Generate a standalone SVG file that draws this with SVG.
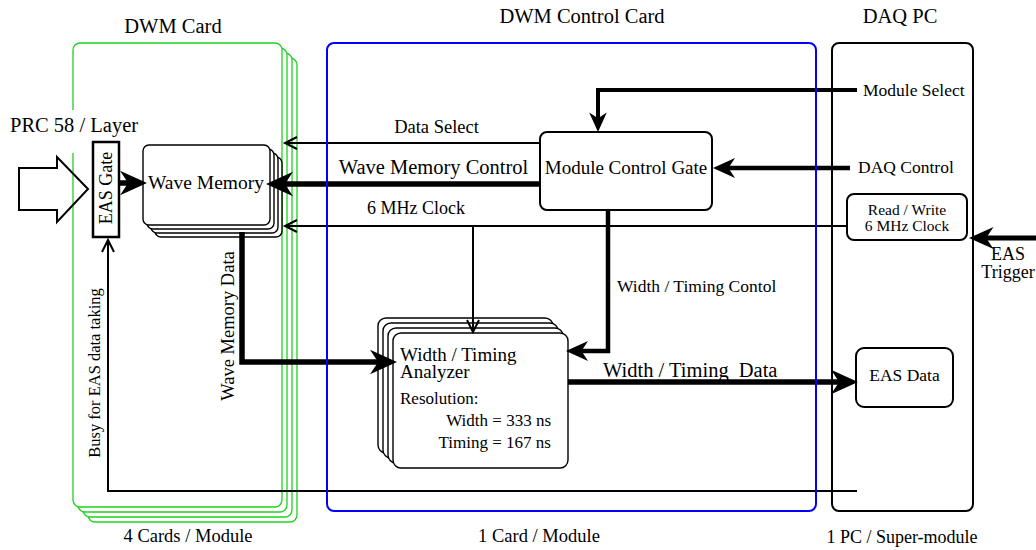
<svg xmlns="http://www.w3.org/2000/svg" width="1036" height="550" viewBox="0 0 1036 550">
  <style>
    .t { font-family: "Liberation Serif", "Times New Roman", serif; fill: #000; }
    .box { fill: #fff; stroke: #000; stroke-width: 2; }
    .stack { fill: #fff; stroke: #000; stroke-width: 1.4; }
    .card { fill: #fff; stroke: #1fd21f; stroke-width: 1.3; }
    .thin { fill: none; stroke: #000; stroke-width: 2; marker-end: url(#open); }
    .thick { fill: none; stroke: #000; stroke-linejoin: miter; marker-end: url(#solid); }
  </style>
  <defs>
    <!-- filled, notched head for the wide data/control buses (scales with stroke) -->
    <marker id="solid" viewBox="0 0 10 9" refX="6" refY="4.5" markerWidth="4.9" markerHeight="4.41" orient="auto" markerUnits="strokeWidth" overflow="visible">
      <path d="M0,0 L10,4.5 L0,9 L3,4.5 Z" fill="#000"/>
    </marker>
    <!-- open chevron head for thin signal lines -->
    <marker id="open" viewBox="0 0 14 14" refX="13" refY="7" markerWidth="14" markerHeight="14" orient="auto" markerUnits="userSpaceOnUse" overflow="visible">
      <path d="M1,1 L13,7 L1,13" fill="none" stroke="#000" stroke-width="2"/>
    </marker>
  </defs>

  <rect width="1036" height="550" fill="#fff"/>

  <!-- titles -->
  <text class="t" x="173" y="33" font-size="20.5" text-anchor="middle">DWM Card</text>
  <text class="t" x="582" y="23" font-size="20.5" text-anchor="middle">DWM Control Card</text>
  <text class="t" x="900" y="23" font-size="20.5" text-anchor="middle">DAQ PC</text>

  <!-- DWM cards: four stacked boards -->
  <g id="dwm-cards">
    <rect class="card" x="88" y="58" width="209" height="464" rx="7"/>
    <rect class="card" x="83" y="53" width="209" height="464" rx="7"/>
    <rect class="card" x="78" y="48" width="209" height="464" rx="7"/>
    <rect class="card" x="73" y="43" width="209" height="464" rx="7"/>
    <text class="t" x="188" y="541.5" font-size="18.5" text-anchor="middle">4 Cards / Module</text>
  </g>

  <!-- input from the PRC -->
  <g id="prc-input">
    <rect x="8" y="110" width="132" height="43" fill="#fff"/>
    <text class="t" x="10" y="132" font-size="20.5">PRC 58 / Layer</text>
    <polygon points="19,168 57,168 57,157 88,189 57,222 57,210 19,210" fill="none" stroke="#000" stroke-width="2" stroke-linejoin="miter"/>
  </g>

  <!-- DAQ PC -->
  <g id="daq-pc">
    <rect x="832" y="43" width="141" height="468" rx="7" fill="none" stroke="#000" stroke-width="2"/>
    <text class="t" x="902" y="543" font-size="18" text-anchor="middle">1 PC / Super-module</text>
  </g>

  <g id="eas-gate">
    <rect x="93" y="142" width="26" height="95" fill="#fff" stroke="#000" stroke-width="2.5"/>
    <text class="t" transform="translate(112,188) rotate(-90)" font-size="18" text-anchor="middle">EAS Gate</text>
  </g>

  <g id="wave-memory">
    <rect class="stack" x="155" y="157" width="127" height="80" rx="6"/>
    <rect class="stack" x="151" y="153" width="127" height="80" rx="6"/>
    <rect class="stack" x="147" y="149" width="127" height="80" rx="6"/>
    <rect class="stack" x="143" y="145" width="127" height="80" rx="6"/>
    <text class="t" x="206" y="189" font-size="19.5" text-anchor="middle">Wave Memory</text>
  </g>

  <g id="module-control-gate">
    <rect class="box" x="540" y="132" width="172" height="78" rx="7"/>
    <text class="t" x="626" y="174" font-size="19" text-anchor="middle">Module Control Gate</text>
  </g>

  <g id="width-timing-analyzer">
    <rect class="stack" x="378" y="318" width="175" height="135" rx="8"/>
    <rect class="stack" x="383" y="323" width="175" height="135" rx="8"/>
    <rect class="stack" x="388" y="328" width="175" height="135" rx="8"/>
    <rect class="stack" x="393" y="333" width="175" height="135" rx="8"/>
    <text class="t" x="400" y="361" font-size="19">Width / Timing</text>
    <text class="t" x="400" y="378" font-size="19">Analyzer</text>
    <text class="t" x="400" y="404" font-size="17">Resolution:</text>
    <text class="t" x="551" y="426" font-size="17" text-anchor="end">Width = 333 ns</text>
    <text class="t" x="551" y="448" font-size="17" text-anchor="end">Timing = 167 ns</text>
  </g>

  <g id="read-write">
    <rect class="box" x="847" y="194" width="120" height="46" rx="7"/>
    <text class="t" x="907" y="215" font-size="15.5" text-anchor="middle">Read / Write</text>
    <text class="t" x="907" y="231" font-size="15.5" text-anchor="middle">6 MHz Clock</text>
  </g>

  <g id="eas-data">
    <rect class="box" x="856" y="348" width="97" height="59" rx="8"/>
    <text class="t" x="904.5" y="381" font-size="17.5" text-anchor="middle">EAS Data</text>
  </g>

  <!-- connectors -->
  <g id="connectors">
    <path class="thick" stroke-width="5.5" d="M119,183 H136.2"/>
    <path class="thick" stroke-width="5.5" d="M540,184 H276.8"/>
    <path class="thick" stroke-width="4" d="M857,90 H598 V124.2"/>
    <path class="thick" stroke-width="4.5" d="M850,168 H721.8"/>
    <path class="thick" stroke-width="4.5" d="M608,210 V351 H574.8"/>
    <path class="thick" stroke-width="5.5" d="M242,232 V362 H386.2"/>
    <path class="thick" stroke-width="5.5" d="M568,382 H847.2"/>
    <path class="thick" stroke-width="5" d="M1036,238 H978.8"/>
    <path class="thin" d="M540,143 H285"/>
    <path class="thin" d="M847,226 H285"/>
    <path class="thin" d="M473,226 V332"/>
    <path class="thin" d="M857,491 H108 V240"/>

    <text class="t" x="436.5" y="133" font-size="18.5" text-anchor="middle">Data Select</text>
    <text class="t" x="433.5" y="173.5" font-size="20.5" text-anchor="middle">Wave Memory Control</text>
    <text class="t" x="416" y="214" font-size="18" text-anchor="middle">6 MHz Clock</text>
    <text class="t" x="863" y="96" font-size="17.5">Module Select</text>
    <text class="t" x="858" y="173" font-size="17.5">DAQ Control</text>
    <text class="t" x="617" y="292" font-size="17.5">Width / Timing Contol</text>
    <text class="t" x="603" y="377" font-size="20.5">Width / Timing <tspan dx="5">Data</tspan></text>
    <text class="t" x="1008" y="260" font-size="18" text-anchor="middle">EAS</text>
    <text class="t" x="1008" y="278" font-size="18" text-anchor="middle">Trigger</text>
    <text class="t" transform="translate(234,326) rotate(-90)" font-size="18.5" text-anchor="middle">Wave Memory Data</text>
    <text class="t" transform="translate(100,373) rotate(-90)" font-size="16.5" text-anchor="middle">Busy for EAS data taking</text>
  </g>

  <!-- DWM control card outline -->
  <g id="dwm-control-card">
    <rect x="327" y="43" width="489" height="468" rx="7" fill="none" stroke="#0000ff" stroke-width="2"/>
    <text class="t" x="539" y="541.5" font-size="18.5" text-anchor="middle">1 Card / Module</text>
  </g>
</svg>
